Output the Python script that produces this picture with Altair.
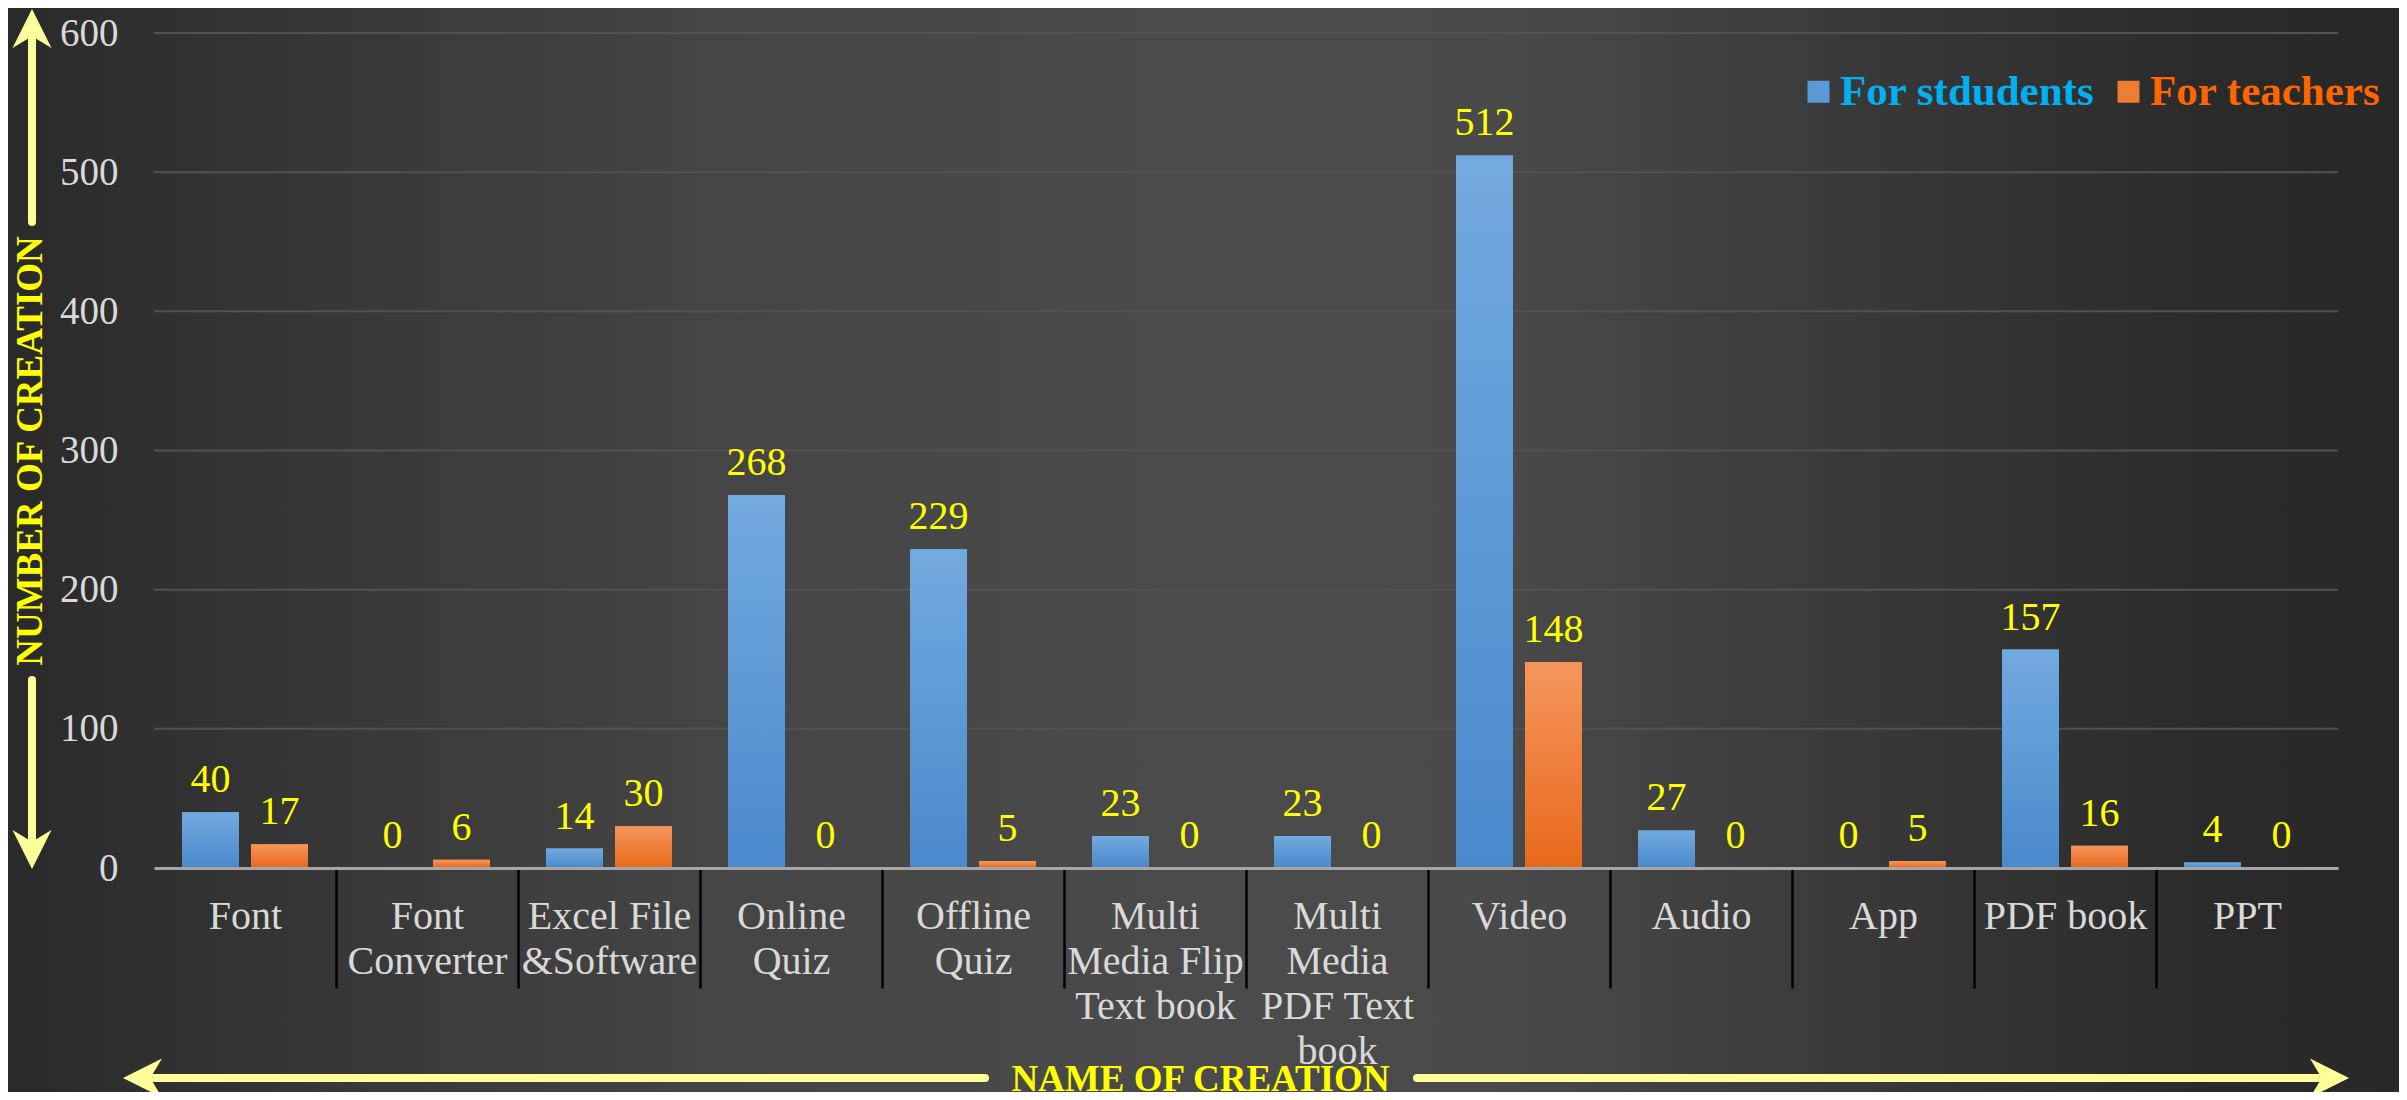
import json
import altair as alt
import pandas as pd

# ---------------- data ----------------
categories = ["Font", "Font Converter", "Excel File &Software", "Online Quiz",
              "Offline Quiz", "Multi Media Flip Text book", "Multi Media PDF Text book",
              "Video", "Audio", "App", "PDF book", "PPT"]
label_lines = [["Font"], ["Font", "Converter"], ["Excel File", "&Software"],
               ["Online", "Quiz"], ["Offline", "Quiz"],
               ["Multi", "Media Flip", "Text book"], ["Multi", "Media", "PDF Text", "book"],
               ["Video"], ["Audio"], ["App"], ["PDF book"], ["PPT"]]
series = ["For stdudents", "For teachers"]
students = [40, 0, 14, 268, 229, 23, 23, 512, 27, 0, 157, 4]
teachers = [17, 6, 30, 0, 5, 0, 0, 148, 0, 5, 16, 0]
y_ticks = [0, 100, 200, 300, 400, 500, 600]

rows = []
for c, sv, tv in zip(categories, students, teachers):
    rows.append({"category": c, "series": series[0], "value": sv})
    rows.append({"category": c, "series": series[1], "value": tv})
df = pd.DataFrame(rows)
grid_df = pd.DataFrame({"value": y_ticks[1:]})
one = pd.DataFrame({"k": [0]})

# ---------------- layout ----------------
W, H = 2184, 835
PL, PT, PR, PB = 146, 25, 61, 224
SERIF = "Liberation Serif"
ARROW = "#ffff99"

label_expr = f"{json.dumps(label_lines)}[indexof({json.dumps(categories)}, datum.label)]"

x_enc = alt.X(
    "category:N", sort=categories,
    scale=alt.Scale(domain=categories, paddingInner=0, paddingOuter=0),
    axis=alt.Axis(
        title="NAME OF CREATION", labelExpr=label_expr, labelAngle=0,
        labelFont=SERIF, labelFontSize=40, labelColor="#d9d9d9",
        labelLineHeight=45, labelPadding=-92, labelLimit=400, labelOverlap=False,
        labelBaseline="top",
        tickBand="extent", tickSize=120, tickColor="#000000", tickWidth=2.5,
        tickOpacity={"condition": {"test": "datum.index >= 1 || datum.index < 0 || datum.extra",
                                   "value": 0}, "value": 1},
        domainColor="#a6a6a6", domainWidth=3, grid=False,
        titleFont=SERIF, titleFontSize=37, titleFontWeight="bold", titleColor="#ffff00",
        titleX=1046, titleY=222, titleBaseline="alphabetic", titleAlign="center",
        zindex=1,
    ),
)
xoff_enc = alt.XOffset("series:N", sort=series,
                       scale=alt.Scale(domain=series, paddingInner=0.174, paddingOuter=0.406))
y_enc = alt.Y(
    "value:Q", scale=alt.Scale(domain=[0, 600], nice=False),
    axis=alt.Axis(
        values=y_ticks, title="NUMBER OF CREATION", grid=False, ticks=False, domain=False,
        labelFont=SERIF, labelFontSize=39, labelColor="#d9d9d9", labelPadding=36,
        titleX=-124, titleY=417.5, titleAngle=270, titleAlign="center",
        titleBaseline="middle", titleFont=SERIF, titleFontSize=37,
        titleFontWeight="bold", titleColor="#ffff00", zindex=1,
    ),
)

bg_grad = alt.Gradient(
    gradient="linear", x1=0, y1=0, x2=1, y2=0,
    stops=[alt.GradientStop(offset=0, color="#2a2a2a"),
           alt.GradientStop(offset=0.06, color="#303030"),
           alt.GradientStop(offset=0.2, color="#3d3d3d"),
           alt.GradientStop(offset=0.3, color="#454545"),
           alt.GradientStop(offset=0.5, color="#4b4b4b"),
           alt.GradientStop(offset=0.62, color="#4a4a4a"),
           alt.GradientStop(offset=0.8, color="#363636"),
           alt.GradientStop(offset=0.92, color="#2b2b2b"),
           alt.GradientStop(offset=1, color="#282828")])

background = alt.Chart(one).mark_rect(color=bg_grad).encode(
    x=alt.value(-PL), x2=alt.value(W + PR), y=alt.value(-PT), y2=alt.value(H + PB))

grid = alt.Chart(grid_df).mark_rule(color="#525252", strokeWidth=2).encode(y=y_enc)

solid = alt.Chart(df).mark_bar().encode(
    x=x_enc, xOffset=xoff_enc, y=y_enc,
    color=alt.Color(
        "series:N", sort=series,
        scale=alt.Scale(domain=series, range=["#5b9bd5", "#ed7d31"]),
        legend=alt.Legend(
            title=None, orient="none", legendX=1643, legendY=37, direction="horizontal",
            symbolType="square", symbolSize=484, symbolStrokeWidth=0,
            labelFont=SERIF, labelFontSize=43, labelFontWeight="bold",
            labelColor=alt.ExprRef(expr="datum.label == 'For teachers' ? '#ff6600' : '#00b0f0'"),
            labelOffset=0, columnPadding=12, labelLimit=500, padding=0, offset=0,
        ),
    ),
)

grads = {
    series[0]: ["#72aadf", "#4a89cc"],
    series[1]: ["#f5965e", "#e8681a"],
}
grad_layers = []
for s in series:
    g = alt.Gradient(gradient="linear", x1=0, y1=0, x2=0, y2=1,
                     stops=[alt.GradientStop(offset=0, color=grads[s][0]),
                            alt.GradientStop(offset=1, color=grads[s][1])])
    grad_layers.append(
        alt.Chart(df).transform_filter(alt.datum.series == s)
        .mark_bar(color=g).encode(x=x_enc, xOffset=xoff_enc, y=y_enc)
    )

labels = alt.Chart(df).mark_text(
    dy=-20, baseline="alphabetic", align="center", font=SERIF, fontSize=40, color="#ffff00"
).encode(x=x_enc, xOffset=xoff_enc, y=y_enc, text=alt.Text("value:Q"))

# ---------------- decorative arrows ----------------
def shaft(x1, y1, x2=None, y2=None):
    enc = {"x": alt.value(x1), "y": alt.value(y1)}
    if x2 is not None:
        enc["x2"] = alt.value(x2)
    if y2 is not None:
        enc["y2"] = alt.value(y2)
    return alt.Chart(one).mark_rule(color=ARROW, strokeWidth=8, strokeCap="round").encode(**enc)

def head(x, y, path):
    return alt.Chart(one).mark_point(
        shape=path, size=1521, filled=True, color=ARROW, opacity=1, strokeWidth=0
    ).encode(x=alt.value(x), y=alt.value(y))

UP = "M0,-1L1,1L0,0.4L-1,1Z"
DOWN = "M0,1L1,-1L0,-0.4L-1,-1Z"
LEFT = "M-1,0L1,-1L0.4,0L1,1Z"
RIGHT = "M1,0L-1,-1L-0.4,0L-1,1Z"

arrows = [
    shaft(-122, 3, y2=189), head(-122, -4.5, UP),
    shaft(-122, 647, y2=809), head(-122, 816.5, DOWN),
    shaft(-3, 1045, x2=831), head(-11.5, 1045, LEFT),
    shaft(1263, 1045, x2=2168), head(2175.5, 1045, RIGHT),
]

chart = alt.layer(background, grid, solid, *grad_layers, labels, *arrows).properties(
    width=W, height=H,
    autosize=alt.AutoSizeParams(type="none"),
    padding={"left": PL, "top": PT, "right": PR, "bottom": PB},
    background="#2e2e2e",
).configure_view(stroke=None)

chart.save("out.html", embed_options={"renderer": "svg", "actions": False})
